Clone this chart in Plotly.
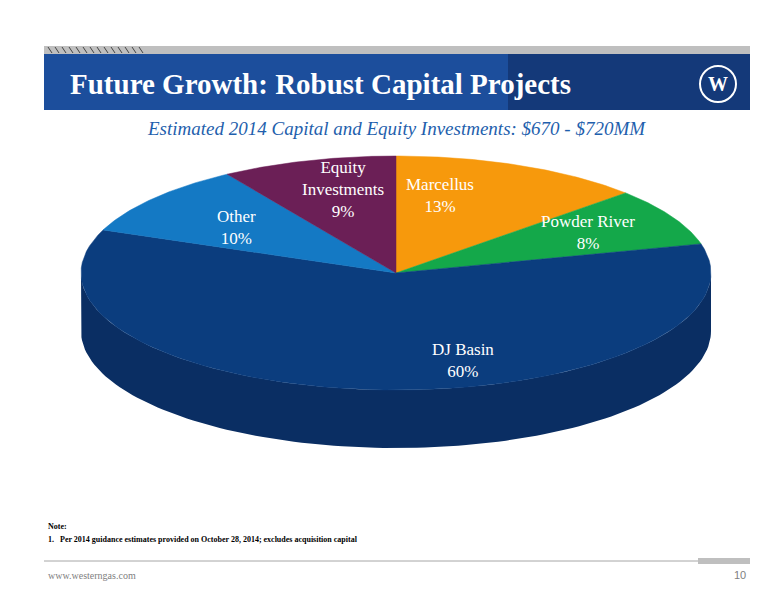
import numpy as np
import plotly.graph_objects as go

labels = ["Marcellus", "Powder River", "DJ Basin", "Other", "Equity<br>Investments"]
values = [13, 8, 60, 10, 9]
colors = ["#F7990C", "#14A84A", "#0B3D7E", "#1479C4", "#6B1F56"]
label_pos = [(432, 187), (580, 224), (455, 352), (228, 219), (335, 181)]

W, H = 776, 600
cx, cy, rx, ry, depth = 388, 265, 315, 117, 58

fig = go.Figure()

def pt(frac):
    a = np.pi / 2 - 2 * np.pi * frac
    return cx + rx * np.cos(a), cy - ry * np.sin(a)

# side band (front half)
fr = np.linspace(0.25, 0.75, 120)
xs = [pt(f)[0] for f in fr]
ys = [pt(f)[1] for f in fr]
fig.add_trace(go.Scatter(x=xs + xs[::-1], y=ys + [y + depth for y in ys[::-1]],
                         fill="toself", fillcolor="#0A2E63", mode="lines",
                         line=dict(width=0), hoverinfo="skip", showlegend=False))

cum = np.concatenate([[0], np.cumsum(values)]) / sum(values)
for i, (lab, v) in enumerate(zip(labels, values)):
    f = np.linspace(cum[i], cum[i + 1], 80)
    px = [cx] + [pt(t)[0] for t in f] + [cx]
    py = [cy] + [pt(t)[1] for t in f] + [cy]
    fig.add_trace(go.Scatter(x=px, y=py, fill="toself", fillcolor=colors[i], mode="lines",
                             line=dict(width=0.5, color=colors[i]), hoverinfo="skip",
                             showlegend=False))
    fig.add_annotation(x=label_pos[i][0], y=label_pos[i][1],
                       text=f"{lab}<br>{v}%", showarrow=False,
                       font=dict(family="Liberation Serif", size=17, color="white"))

shapes = [
    dict(type="rect", x0=36, x1=742, y0=38, y1=46, fillcolor="#BFBFBF", line_width=0, layer="below"),
    dict(type="rect", x0=36, x1=742, y0=46, y1=102, fillcolor="#1C4E9C", line_width=0, layer="below"),
    dict(type="rect", x0=500, x1=742, y0=46, y1=102, fillcolor="#11306B", line_width=0, layer="below", opacity=0.7),
    dict(type="circle", x0=692, x1=728, y0=58, y1=94, line=dict(color="white", width=2)),
    dict(type="line", x0=36, x1=742, y0=553, y1=553, line=dict(color="#A6A6A6", width=1)),
    dict(type="rect", x0=690, x1=742, y0=550, y1=556, fillcolor="#BFBFBF", line_width=0),
]
for k in range(14):
    shapes.append(dict(type="line", x0=40 + k * 7, x1=44 + k * 7, y0=39, y1=45, line=dict(color="#444", width=1)))

fig.update_layout(
    width=W, height=H, margin=dict(l=0, r=0, t=0, b=0),
    plot_bgcolor="white", paper_bgcolor="white", shapes=shapes,
    xaxis=dict(range=[0, W], visible=False, fixedrange=True),
    yaxis=dict(range=[H, 0], visible=False, fixedrange=True),
)
fig.add_annotation(x=60, y=76, xanchor="left", text="<b>Future Growth: Robust Capital Projects</b>",
                   showarrow=False, font=dict(family="Liberation Serif", size=29, color="white"))
fig.add_annotation(x=710, y=76, text="<b>W</b>", showarrow=False,
                   font=dict(family="Liberation Serif", size=20, color="white"))
fig.add_annotation(x=388, y=120, text="<i>Estimated 2014 Capital and Equity Investments: $670 - $720MM</i>",
                   showarrow=False, font=dict(family="Liberation Serif", size=19, color="#1F5FAD"))
fig.add_annotation(x=38, y=518, xanchor="left", text="<b>Note:</b>", showarrow=False,
                   font=dict(family="Liberation Serif", size=8, color="black"))
fig.add_annotation(x=38, y=531, xanchor="left",
                   text="<b>1.   Per 2014 guidance estimates provided on October 28, 2014; excludes acquisition capital</b>",
                   showarrow=False, font=dict(family="Liberation Serif", size=8, color="black"))
fig.add_annotation(x=38, y=567, xanchor="left", text="www.westerngas.com", showarrow=False,
                   font=dict(family="Liberation Serif", size=10, color="#808080"))
fig.add_annotation(x=740, y=567, xanchor="right", text="10", showarrow=False,
                   font=dict(family="Liberation Sans", size=11, color="#808080"))
fig.write_html("out.html")
